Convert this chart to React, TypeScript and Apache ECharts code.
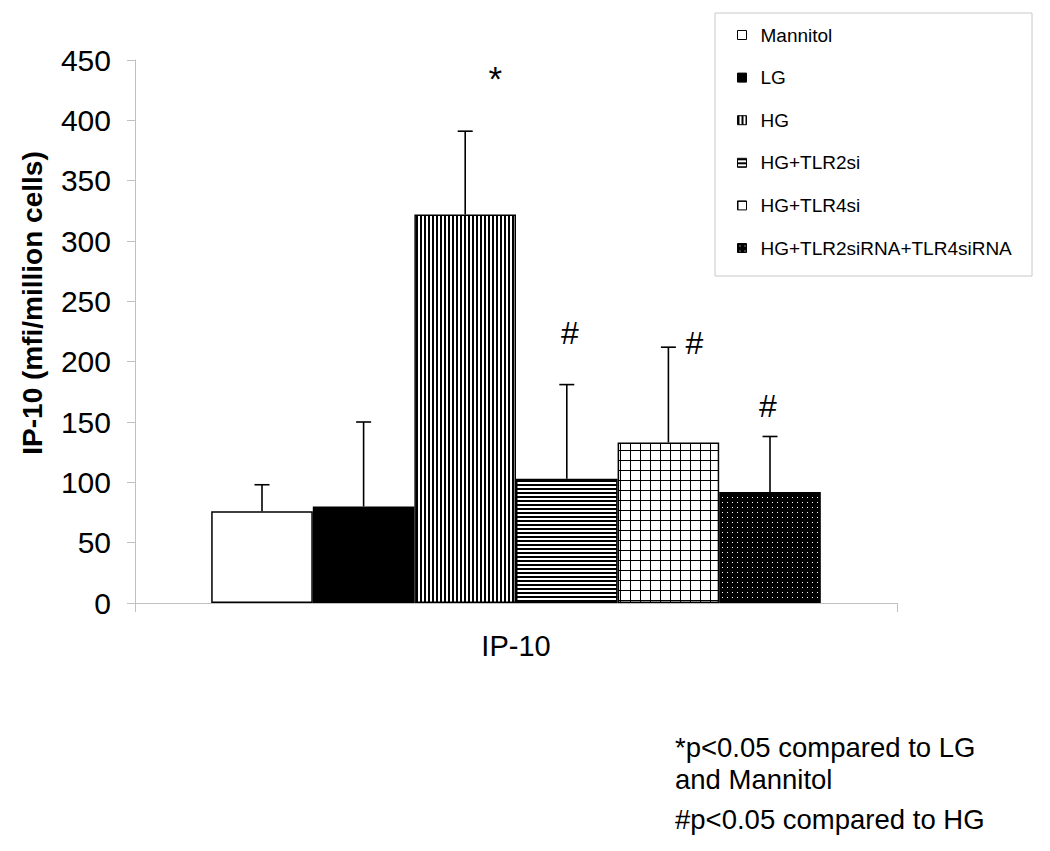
import React, { useEffect, useRef } from "react";
import * as echarts from "echarts";

// ---------------- data ----------------
const categories = ["IP-10"];
const seriesNames = [
  "Mannitol",
  "LG",
  "HG",
  "HG+TLR2si",
  "HG+TLR4si",
  "HG+TLR2siRNA+TLR4siRNA",
];
const means = [76, 80, 322, 103, 133, 92];
const errorTops = [98, 150, 391, 181, 212, 138];
const significance = ["", "", "*", "#", "#", "#"];
const yMin = 0;
const yMax = 450;
const yInterval = 50;
const yAxisTitle = "IP-10 (mfi/million cells)";
const footnotes = [
  "*p<0.05 compared to LG",
  "and Mannitol",
  "#p<0.05 compared to HG",
];

// ---------------- styling ----------------
const FONT = '"Liberation Sans", Arial, sans-serif';
const AXIS_GREY = "#c0c0c0";
const patternKinds = ["white", "black", "vstripe", "hstripe", "grid", "dots"];
// label offsets (px) relative to top of the error bar: [dx, dy, fontSize]
const annotationOffsets: [number, number, number][] = [
  [0, 0, 30],
  [0, 0, 30],
  [30, -53, 35],
  [3, -52, 32],
  [26, -4, 32],
  [-2, -30, 32],
];
const BAR_FRACTION = 0.8;

function makeFill(kind: string): any {
  if (kind === "white") return "#ffffff";
  if (kind === "black") return "#000000";
  let w = 4;
  let h = 4;
  if (kind === "grid") {
    w = 10;
    h = 10;
  }
  if (kind === "dots") {
    w = 5;
    h = 5;
  }
  const c = document.createElement("canvas");
  c.width = w;
  c.height = h;
  const ctx = c.getContext("2d") as CanvasRenderingContext2D;
  if (kind === "vstripe") {
    ctx.fillStyle = "#fff";
    ctx.fillRect(0, 0, w, h);
    ctx.fillStyle = "#000";
    ctx.fillRect(0, 0, 2, h);
  } else if (kind === "hstripe") {
    ctx.fillStyle = "#fff";
    ctx.fillRect(0, 0, w, h);
    ctx.fillStyle = "#000";
    ctx.fillRect(0, 0, w, 2);
  } else if (kind === "grid") {
    ctx.fillStyle = "#fff";
    ctx.fillRect(0, 0, w, h);
    ctx.fillStyle = "#000";
    ctx.fillRect(0, 0, 1, h);
    ctx.fillRect(0, 0, w, 1);
  } else if (kind === "dots") {
    ctx.fillStyle = "#000";
    ctx.fillRect(0, 0, w, h);
    ctx.fillStyle = "#fff";
    ctx.fillRect(2, 2, 1, 1);
  }
  return {
    image: c.toDataURL(),
    repeat: "repeat",
    imageWidth: w,
    imageHeight: h,
  };
}

export default function App() {
  const ref = useRef<HTMLDivElement>(null);

  useEffect(() => {
    if (!ref.current) return;
    const chart = echarts.init(ref.current, undefined, { renderer: "svg" });
    const n = seriesNames.length;
    const fills = patternKinds.map(makeFill);

    const barSeries = seriesNames.map((name, i) => ({
      type: "bar",
      name,
      data: [means[i]],
      barGap: "0%",
      barCategoryGap: "20%",
      silent: true,
      itemStyle: {
        color: fills[i],
        borderColor: "#000",
        borderWidth: 1.5,
      },
      emphasis: { disabled: true },
    }));

    const errorSeries = {
      type: "custom",
      name: "error",
      z: 5,
      silent: true,
      data: seriesNames.map((_, i) => [0, means[i], errorTops[i], i]),
      encode: { x: 0, y: [1, 2] },
      renderItem: (params: any, api: any) => {
        const i = api.value(3);
        const band = api.size([1, 0])[0];
        const barW = (band * BAR_FRACTION) / n;
        const base = api.coord([api.value(0), api.value(1)]);
        const top = api.coord([api.value(0), api.value(2)]);
        const x = base[0] + (i - (n - 1) / 2) * barW;
        const capHalf = 7.5;
        const off = annotationOffsets[i];
        const children: any[] = [
          {
            type: "line",
            shape: { x1: x, y1: base[1], x2: x, y2: top[1] },
            style: { stroke: "#000", lineWidth: 1.6 },
          },
          {
            type: "line",
            shape: { x1: x - capHalf, y1: top[1], x2: x + capHalf, y2: top[1] },
            style: { stroke: "#000", lineWidth: 1.6 },
          },
        ];
        if (significance[i]) {
          children.push({
            type: "text",
            x: x + off[0],
            y: top[1] + off[1],
            style: {
              text: significance[i],
              fontSize: off[2],
              fontFamily: FONT,
              fill: "#000",
              align: "center",
              verticalAlign: "middle",
            },
          });
        }
        return { type: "group", children };
      },
    };

    chart.setOption({
      animation: false,
      backgroundColor: "#ffffff",
      textStyle: { fontFamily: FONT },
      grid: { left: 135, right: 153, top: 60, bottom: 248, containLabel: false },
      legend: {
        data: seriesNames,
        orient: "vertical",
        left: 737,
        top: 25.5,
        padding: 0,
        itemGap: 23.6,
        itemWidth: 9,
        itemHeight: 9,
        icon: "rect",
        selectedMode: false,
        itemStyle: { borderColor: "#000", borderWidth: 1 },
        textStyle: {
          fontSize: 19,
          fontFamily: FONT,
          color: "#000",
          lineHeight: 19,
          padding: [0, 0, 0, 9],
        },
      },
      xAxis: {
        type: "category",
        data: categories,
        axisLine: { show: true, lineStyle: { color: AXIS_GREY, width: 1 } },
        axisTick: { show: true, length: 9, lineStyle: { color: AXIS_GREY } },
        axisLabel: { fontSize: 29, margin: 28, color: "#000", fontFamily: FONT },
      },
      yAxis: {
        type: "value",
        min: yMin,
        max: yMax,
        interval: yInterval,
        axisLine: { show: true, lineStyle: { color: AXIS_GREY, width: 1 } },
        axisTick: { show: true, length: 8, lineStyle: { color: AXIS_GREY } },
        splitLine: { show: false },
        axisLabel: { fontSize: 30, margin: 24, color: "#000", fontFamily: FONT },
      },
      graphic: [
        {
          type: "rect",
          shape: { x: 715, y: 13, width: 317, height: 263 },
          style: { fill: "none", stroke: "#c8c8c8", lineWidth: 1 },
          silent: true,
        },
        {
          type: "text",
          x: 32,
          y: 303,
          rotation: Math.PI / 2,
          style: {
            text: yAxisTitle,
            fontSize: 28,
            fontWeight: "bold",
            fontFamily: FONT,
            fill: "#000",
            align: "center",
            verticalAlign: "middle",
          },
        },
        ...footnotes.map((t, k) => ({
          type: "text",
          x: 675,
          y: [747, 779, 819][k],
          style: {
            text: t,
            fontSize: 27.5,
            fontFamily: FONT,
            fill: "#000",
            align: "left",
            verticalAlign: "middle",
          },
        })),
      ],
      series: [...barSeries, errorSeries],
    });

    return () => {
      chart.dispose();
    };
  }, []);

  return (
    <div
      ref={ref}
      style={{ position: "fixed", left: 0, top: 0, width: 1050, height: 851, background: "#fff" }}
    />
  );
}
